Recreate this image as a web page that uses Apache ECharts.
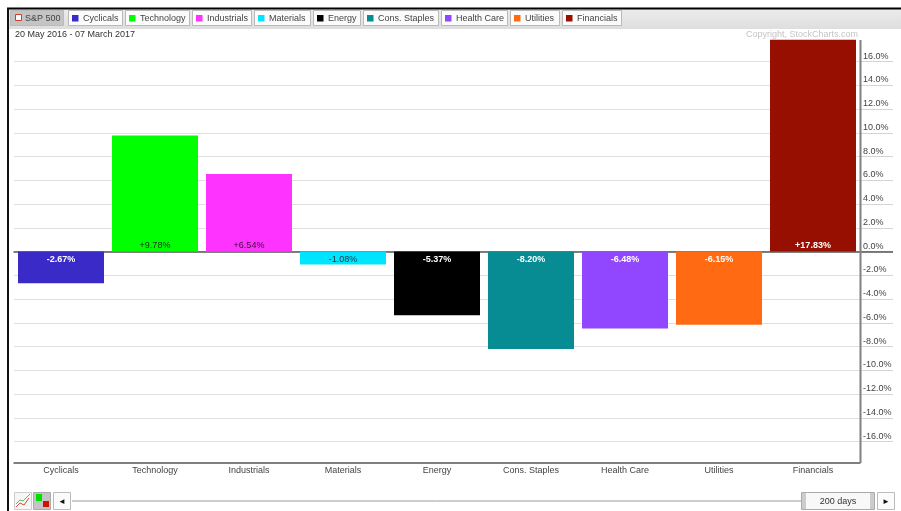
<!DOCTYPE html>
<html><head><meta charset="utf-8">
<style>html,body{margin:0;padding:0;background:#fff}#c{width:901px;height:511px}canvas{filter:blur(0.45px)}</style>
<script src="https://cdn.jsdelivr.net/npm/echarts@6/dist/echarts.min.js"></script></head>
<body><div id="c"></div>
<script>
const categories = ['Cyclicals','Technology','Industrials','Materials','Energy','Cons. Staples','Health Care','Utilities','Financials'];
const values = [-2.67, 9.78, 6.54, -1.08, -5.37, -8.20, -6.48, -6.15, 17.83];
const barColors = ['#3A2BC9','#00FF00','#FF33FF','#00E5FF','#000000','#088C94','#9146FF','#FF6A12','#960F00'];
const labelColors = ['#fff','#123012','#351035','#103540','#fff','#fff','#fff','#fff','#fff'];
const labelWeights = ['bold','normal','normal','normal','bold','bold','bold','bold','bold'];
const tickValues = [-16,-14,-12,-10,-8,-6,-4,-2,0,2,4,6,8,10,12,14,16];
const legendNames = ['S&P 500','Cyclicals','Technology','Industrials','Materials','Energy','Cons. Staples','Health Care','Utilities','Financials'];
const legendColors = ['#fff','#3A2BC9','#00FF00','#FF33FF','#00E5FF','#000000','#088C94','#9146FF','#FF6A12','#960F00'];
const legendLeft = [10,68,125,192,254,313,363,441,510,562];
const legendRight = [63,122,189,251,310,360,438,507,559,621];
const dateRange = '20 May 2016 - 07 March 2017';
const copyright = 'Copyright, StockCharts.com';
const periodLabel = '200 days';

const FONT = '"Liberation Sans", Arial, sans-serif';
const g = [];
const rect = (x,y,w,h,fill,stroke,z) => g.push({type:'rect',silent:true,z:z||1,shape:{x,y,width:w,height:h},style:{fill:fill||'transparent',stroke:stroke||null,lineWidth:1}});
const line = (x1,y1,x2,y2,c,w) => g.push({type:'line',silent:true,z:5,shape:{x1,y1,x2,y2},style:{stroke:c,lineWidth:w||1}});
const text = (x,y,t,c,sz,al) => g.push({type:'text',silent:true,z:6,x,y,style:{text:t,fill:c,font:(sz||9)+'px '+FONT,textAlign:al||'left',textVerticalAlign:'middle'}});

// header band and frame
g.push({type:'rect',silent:true,z:1,shape:{x:8,y:9,width:893,height:20},style:{fill:{type:'linear',x:0,y:0,x2:0,y2:1,colorStops:[{offset:0,color:'#ececec'},{offset:1,color:'#dedede'}]}}});
line(7,8.5,901,8.5,'#000',2);
line(8,8,8,511,'#111',2);
// right-hand value axis rule, kept above the tick marks
line(860.5,40,860.5,463,'#808080',2);
legendNames.forEach((n,i)=>{
  const x=legendLeft[i], w=legendRight[i]-x;
  if(i===0){ rect(x+.5,10.5,w,15,'#c4c4c4','#bbb',2); rect(x+5.5,14.5,6,6,'#fff','#d83a2a',3); }
  else { rect(x+.5,10.5,w,15,'#fbfbfb','#b9b9b9',2); rect(x+4,15,6.5,6.5,legendColors[i],null,3); }
  text(x+15,18.5,n,'#444',9);
});
text(15,35,dateRange,'#333',9);
text(858,35,copyright,'#c4c4c4',9,'right');

// bottom controls
rect(14.5,492.5,17,17,'#f6f6f6','#ccc',2);
g.push({type:'polyline',silent:true,z:3,shape:{points:[[16,504],[20,500],[23,501],[30,494]]},style:{stroke:'#3fd13f',fill:null,lineWidth:1}});
g.push({type:'polyline',silent:true,z:3,shape:{points:[[16,507],[20,503],[24,505],[29,498]]},style:{stroke:'#d84a3a',fill:null,lineWidth:1}});
rect(33.5,492.5,17,17,'#c4c4c4','#aaa',2);
rect(36,494,6,7,'#00e000',null,3); rect(43,501,6,6,'#d01000',null,3);
rect(53.5,492.5,17,17,'#fbfbfb','#bbb',2);
text(62,501.5,'◄','#111',8,'center');
line(72,501,801,501,'#999',1);
rect(801.5,492.5,73,17,'#f8f8f8','#aaa',2);
rect(802,493,4,16,'#ccc',null,3); rect(870,493,4,16,'#ccc',null,3);
text(838,501.5,periodLabel,'#333',9,'center');
rect(877.5,492.5,17,17,'#fbfbfb','#bbb',2);
text(886,501.5,'►','#111',8,'center');

const chart = echarts.init(document.getElementById('c'),null,{renderer:'canvas'});
chart.setOption({
  animation:false,
  textStyle:{fontFamily:FONT},
  grid:{left:14,top:39,width:846,height:424,containLabel:false},
  xAxis:[
    {type:'category',data:categories,position:'bottom',axisLine:{onZero:false,lineStyle:{color:'#555',width:1.5}},axisTick:{show:false},
     axisLabel:{color:'#444',fontSize:9,margin:3,interval:0},splitLine:{show:false}},
    {type:'category',data:categories,position:'bottom',axisLine:{onZero:true,lineStyle:{color:'#555',width:1.5}},axisTick:{show:false},axisLabel:{show:false},splitLine:{show:false}}
  ],
  yAxis:[
    {type:'value',position:'right',min:-17.8,max:17.9,
     axisLine:{show:false},
     axisTick:{show:true,length:33,customValues:tickValues,lineStyle:{color:'#d4d4d4',width:1}},
     axisLabel:{show:true,customValues:tickValues,color:'#444',fontSize:9,margin:3,verticalAlign:'bottom',lineHeight:11,formatter:v=>v.toFixed(1)+'%'},
     splitLine:{show:true,lineStyle:{color:'#e0e0e0',width:1}}},
    {type:'value',position:'right',min:-17.8,max:17.9,axisLine:{show:false},
     axisTick:{show:true,length:33,customValues:[0],lineStyle:{color:'#555',width:1.5}},
     axisLabel:{show:false},splitLine:{show:false}}
  ],
  series:[{
    type:'bar',xAxisIndex:0,yAxisIndex:0,barWidth:86,z:3,
    data:values.map((v,i)=>({value:v,itemStyle:{color:barColors[i]},
      label:{show:true,position:v>=0?'insideBottom':'insideTop',distance:v>=0?2:3,color:labelColors[i],fontSize:9,fontWeight:labelWeights[i],
             formatter:(v>=0?'+':'')+v.toFixed(2)+'%'}}))
  }],
  graphic:{elements:g}
});
</script></body></html>
